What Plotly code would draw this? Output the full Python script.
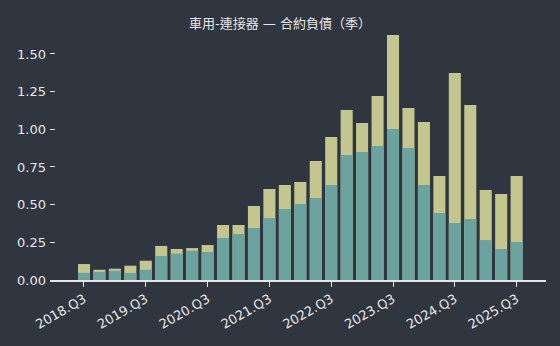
import plotly.graph_objects as go

# Quarterly contract liabilities (車用-連接器 sector)
quarters = [
    "2018.Q3", "2018.Q4", "2019.Q1", "2019.Q2", "2019.Q3", "2019.Q4",
    "2020.Q1", "2020.Q2", "2020.Q3", "2020.Q4", "2021.Q1", "2021.Q2",
    "2021.Q3", "2021.Q4", "2022.Q1", "2022.Q2", "2022.Q3", "2022.Q4",
    "2023.Q1", "2023.Q2", "2023.Q3", "2023.Q4", "2024.Q1", "2024.Q2",
    "2024.Q3", "2024.Q4", "2025.Q1", "2025.Q2", "2025.Q3",
]
total_liab = [
    0.106, 0.068, 0.075, 0.095, 0.128, 0.226, 0.206, 0.212, 0.232, 0.365,
    0.365, 0.491, 0.604, 0.630, 0.650, 0.790, 0.949, 1.128, 1.042, 1.221,
    1.626, 1.141, 1.048, 0.690, 1.374, 1.161, 0.597, 0.571, 0.690,
]
current_liab = [
    0.048, 0.053, 0.062, 0.046, 0.068, 0.159, 0.175, 0.195, 0.186, 0.279,
    0.305, 0.345, 0.411, 0.471, 0.504, 0.544, 0.630, 0.829, 0.849, 0.889,
    1.002, 0.876, 0.630, 0.445, 0.378, 0.405, 0.265, 0.206, 0.252,
]
y_ticks = [0.0, 0.25, 0.5, 0.75, 1.0, 1.25, 1.5]

idx = list(range(len(quarters)))
tick_idx = [i for i, q in enumerate(quarters) if q.endswith("Q3")]

bg = "#2f3640"
txt = "#e6e6e6"
font_family = "DejaVu Sans, Noto Sans CJK TC, sans-serif"

fig = go.Figure()
fig.add_trace(go.Bar(x=idx, y=total_liab, marker=dict(color="#c3c78f", line_width=0),
                     name="合約負債"))
fig.add_trace(go.Bar(x=idx, y=current_liab, marker=dict(color="#6da39f", line_width=0),
                     name="流動合約負債"))

fig.update_layout(
    width=560, height=346,
    paper_bgcolor=bg, plot_bgcolor=bg,
    barmode="overlay", bargap=0.22,
    showlegend=False,
    margin=dict(l=50, r=14, t=35, b=66),
    font=dict(family=font_family, color=txt, size=13),
    title=dict(text="車用-連接器 — 合約負債（季）", x=0.5, xanchor="center",
               y=1 - 23 / 346, yanchor="middle",
               font=dict(size=13, color=txt, family=font_family)),
)
fig.update_xaxes(
    range=[-2.2, len(quarters) + 0.9],
    tickmode="array", tickvals=tick_idx, ticktext=[quarters[i] for i in tick_idx],
    tickangle=-30, ticks="outside", ticklen=5, tickcolor=txt, tickwidth=1,
    showline=True, linecolor=txt, linewidth=1.5,
    showgrid=False, zeroline=False,
    tickfont=dict(size=13, color=txt),
)
fig.update_yaxes(
    range=[0, 1.626],
    tickmode="array", tickvals=y_ticks, ticktext=[f"{v:.2f}" for v in y_ticks],
    ticks="inside", ticklen=5, tickcolor=txt, tickwidth=1,
    ticklabelstandoff=3,
    showline=False, showgrid=False, zeroline=False,
    tickfont=dict(size=13, color=txt),
)

fig.write_html("out.html")
